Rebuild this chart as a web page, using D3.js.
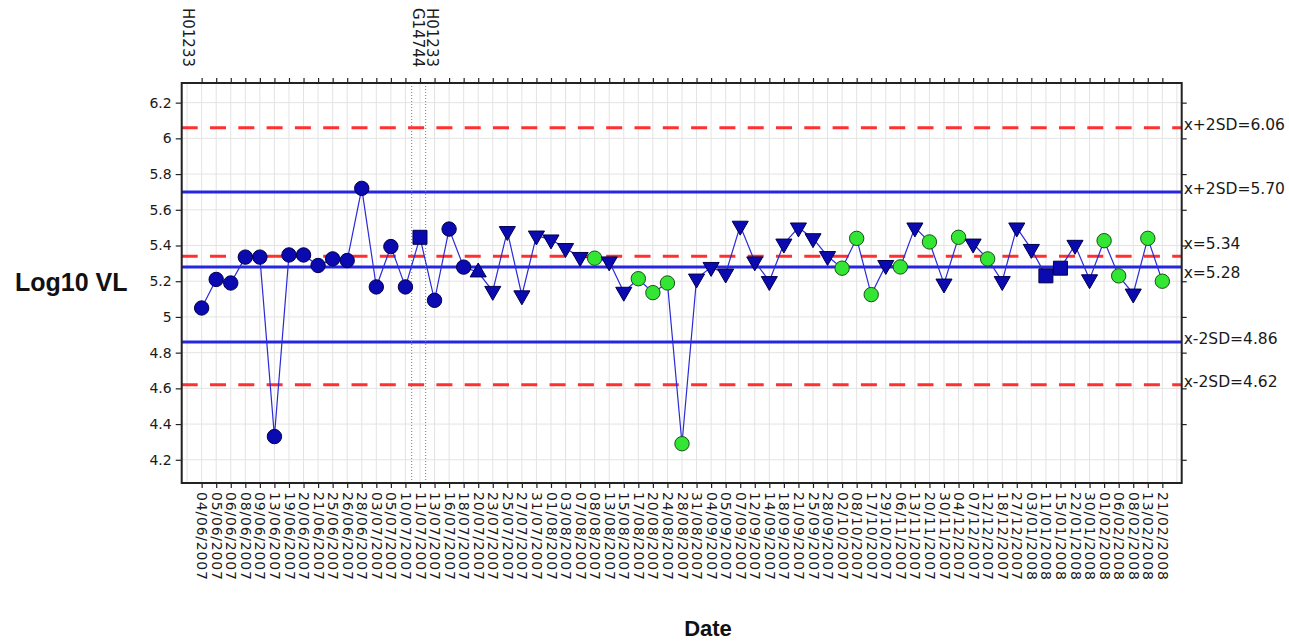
<!DOCTYPE html>
<html><head><meta charset="utf-8">
<script src="https://cdn.jsdelivr.net/npm/d3@7"></script>
<style>body{margin:0;background:#fff;}svg{display:block;}</style>
</head><body>
<svg id="chart" width="1289" height="641"></svg>
<script>
// ---------- data ----------
const dates = [
 "04/06/2007","05/06/2007","06/06/2007","08/06/2007","09/06/2007","13/06/2007","19/06/2007","20/06/2007",
 "21/06/2007","25/06/2007","26/06/2007","28/06/2007","03/07/2007","05/07/2007","10/07/2007","11/07/2007",
 "13/07/2007","16/07/2007","18/07/2007","20/07/2007","23/07/2007","25/07/2007","27/07/2007","31/07/2007",
 "01/08/2007","03/08/2007","07/08/2007","08/08/2007","13/08/2007","15/08/2007","17/08/2007","20/08/2007",
 "24/08/2007","28/08/2007","31/08/2007","04/09/2007","05/09/2007","07/09/2007","12/09/2007","14/09/2007",
 "18/09/2007","21/09/2007","25/09/2007","28/09/2007","02/10/2007","08/10/2007","17/10/2007","29/10/2007",
 "06/11/2007","13/11/2007","20/11/2007","30/11/2007","04/12/2007","07/12/2007","12/12/2007","18/12/2007",
 "27/12/2007","03/01/2008","11/01/2008","15/01/2008","22/01/2008","30/01/2008","01/02/2008","06/02/2008",
 "08/02/2008","13/02/2008","21/02/2008"
];
const values = [
 5.05,5.21,5.19,5.335,5.335,4.33,5.347,5.347,5.288,5.325,5.316,5.72,5.168,5.394,5.168,5.446,
 5.093,5.492,5.279,5.25,5.145,5.48,5.12,5.455,5.433,5.385,5.335,5.329,5.31,5.14,5.214,5.136,
 5.19,4.29,5.214,5.279,5.242,5.51,5.31,5.20,5.41,5.50,5.44,5.34,5.273,5.44,5.125,5.29,
 5.28,5.50,5.42,5.186,5.446,5.41,5.325,5.20,5.50,5.38,5.23,5.273,5.403,5.21,5.427,5.23,
 5.13,5.44,5.20
];
// marker kind per point: c = blue circle, s = square, tu = triangle up, td = triangle down, g = green circle
const markers = [
 "c","c","c","c","c","c","c","c","c","c","c","c","c","c","c","s",
 "c","c","c","tu","td","td","td","td","td","td","td","g","td","td","g","g",
 "g","g","td","td","td","td","td","td","td","td","td","td","g","g","g","td",
 "g","td","g","td","g","td","g","td","td","td","s","s","td","td","g","g",
 "td","g","g"
];
const refValues = [6.06, 5.70, 5.34, 5.28, 4.86, 4.62];
const refLabels = ["x+2SD=6.06","x+2SD=5.70","x=5.34","x=5.28","x-2SD=4.86","x-2SD=4.62"];
const refKinds  = ["red","blue","red","blue","blue","red"];
const yTicks = [4.2,4.4,4.6,4.8,5.0,5.2,5.4,5.6,5.8,6.0,6.2];
const eventLabels = ["H01233","G14744","H01233"];
const eventPos = [-1.37, 14.43, 15.39];

// ---------- layout ----------
const plot = {left:181.7, right:1181.7, top:83, bottom:483};
const svg = d3.select("#chart");
const x = d3.scaleLinear().domain([-1.37, 67.33]).range([plot.left, plot.right]);
const y = d3.scaleLinear().domain([4.07, 6.31]).range([plot.bottom, plot.top]);
const idx = d3.range(values.length);
const FONT = "'DejaVu Sans', sans-serif";
const BLUE = "#2626e0", RED = "#ff3030";

// grid
const grid = svg.append("g");
grid.selectAll("line.h").data(yTicks).join("line")
  .attr("x1", plot.left).attr("x2", plot.right)
  .attr("y1", d => y(d)).attr("y2", d => y(d))
  .attr("stroke", "#e3e3e3").attr("stroke-width", 1);
grid.selectAll("line.v").data(d3.range(-1, values.length + 1)).join("line")
  .attr("x1", d => x(d)).attr("x2", d => x(d))
  .attr("y1", plot.top).attr("y2", plot.bottom)
  .attr("stroke", "#e3e3e3").attr("stroke-width", 1);

// reference lines
svg.append("g").selectAll("line").data(refValues).join("line")
  .attr("x1", plot.left).attr("x2", plot.right)
  .attr("y1", d => y(d)).attr("y2", d => y(d))
  .attr("stroke", (d, i) => refKinds[i] === "red" ? RED : BLUE)
  .attr("stroke-width", 3)
  .attr("stroke-dasharray", (d, i) => refKinds[i] === "red" ? "16,12.3" : null);

// event dotted lines
svg.append("g").selectAll("line").data(eventPos).join("line")
  .attr("x1", d => x(d)).attr("x2", d => x(d))
  .attr("y1", plot.top).attr("y2", plot.bottom)
  .attr("stroke", "#777").attr("stroke-width", 1).attr("stroke-dasharray", "1,2");

// series line
svg.append("path").datum(idx)
  .attr("fill", "none").attr("stroke", "#2a2ad8").attr("stroke-width", 1.2)
  .attr("d", d3.line().x(i => x(i)).y(i => y(values[i])));

// markers
const mk = svg.append("g");
idx.forEach(i => {
  const k = markers[i], cx = x(i), cy = y(values[i]);
  if (k === "c" || k === "g") {
    mk.append("circle").attr("cx", cx).attr("cy", cy).attr("r", 7.2)
      .attr("fill", k === "g" ? "#33e633" : "#0a0ab0")
      .attr("stroke", k === "g" ? "#1a4f1a" : "#00004d").attr("stroke-width", 1);
  } else {
    const sym = k === "s" ? d3.symbolSquare : d3.symbolTriangle;
    const size = k === "s" ? 196 : 112;
    mk.append("path").attr("d", d3.symbol().type(sym).size(size)())
      .attr("transform", `translate(${cx},${cy})` + (k === "td" ? " rotate(180)" : ""))
      .attr("fill", "#0a0ab0").attr("stroke", "#00004d").attr("stroke-width", 1);
  }
});

// axes
const fmtY = d => String(+d.toFixed(1));
const gl = svg.append("g").attr("transform", `translate(${plot.left},0)`)
  .call(d3.axisLeft(y).tickValues(yTicks).tickSize(6).tickPadding(4).tickFormat(fmtY));
const gr = svg.append("g").attr("transform", `translate(${plot.right},0)`)
  .call(d3.axisRight(y).tickValues(yTicks).tickSize(5).tickFormat(""));
const gb = svg.append("g").attr("transform", `translate(0,${plot.bottom})`)
  .call(d3.axisBottom(x).tickValues(idx).tickSize(5).tickFormat(i => dates[i]));
const gt = svg.append("g").attr("transform", `translate(0,${plot.top})`)
  .call(d3.axisTop(x).tickValues(idx).tickSize(5).tickFormat(""));
[gl, gr, gb, gt].forEach(g => {
  g.select(".domain").remove();
  g.selectAll(".tick line").attr("stroke", "#222").attr("stroke-width", 1.2);
  g.selectAll("text").attr("fill", "#1a1a1a").style("font-family", FONT).style("font-size", "14px");
});
gb.selectAll(".tick text")
  .attr("transform", "rotate(90)").attr("x", 9).attr("y", 0).attr("dy", "0.35em")
  .style("text-anchor", "start").style("letter-spacing", "0.8px");

// frame
svg.append("rect").attr("x", plot.left).attr("y", plot.top)
  .attr("width", plot.right - plot.left).attr("height", plot.bottom - plot.top)
  .attr("fill", "none").attr("stroke", "#222").attr("stroke-width", 2);

// reference labels on the right with simple collision avoidance
const labs = refValues.map((v, i) => ({t: refLabels[i], y: y(v) - 3}));
const sorted = labs.slice().sort((a, b) => a.y - b.y);
for (let i = 1; i < sorted.length; i++) {
  const gap = sorted[i].y - sorted[i - 1].y;
  if (gap < 29) { const p = (29 - gap) / 2; sorted[i - 1].y -= p; sorted[i].y += p; }
}
svg.append("g").selectAll("text").data(labs).join("text")
  .attr("x", plot.right + 2).attr("y", d => d.y).attr("dy", "0.35em")
  .attr("fill", "#1a1a1a").style("font-family", FONT).style("font-size", "15.5px")
  .text(d => d.t);

// event labels at top
svg.append("g").selectAll("text").data(eventPos).join("text")
  .attr("transform", d => `translate(${x(d) + 1.5},8) rotate(90)`)
  .attr("fill", "#1a1a1a").style("font-family", FONT).style("font-size", "15px")
  .text((d, i) => eventLabels[i]);

// axis titles
svg.append("text").attr("x", 15).attr("y", 291).attr("fill", "#111")
  .style("font-family", "'Liberation Sans', Arial, sans-serif").style("font-weight", "bold").style("font-size", "25px")
  .text("Log10 VL");
svg.append("text").attr("x", 708).attr("y", 636).attr("text-anchor", "middle").attr("fill", "#111")
  .style("font-family", "'Liberation Sans', Arial, sans-serif").style("font-weight", "bold").style("font-size", "22px")
  .text("Date");
</script>
</body></html>
